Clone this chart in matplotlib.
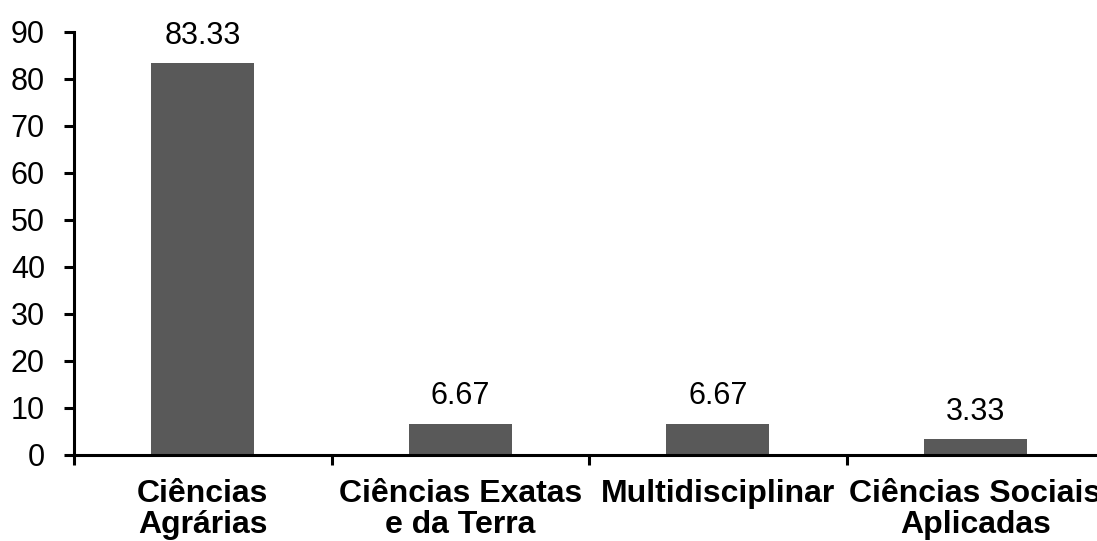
import matplotlib.pyplot as plt
import numpy as np

plt.rcParams['font.family'] = ['Liberation Sans', 'DejaVu Sans']

areas = ["Ciências\nAgrárias", "Ciências Exatas\ne da Terra",
         "Multidisciplinar", "Ciências Sociais\nAplicadas"]
percent = [83.33, 6.67, 6.67, 3.33]
yticks = [0, 10, 20, 30, 40, 50, 60, 70, 80, 90]

fig = plt.figure(figsize=(10.97, 5.41), dpi=100)
ax = fig.add_axes([0.0675, 0.159, 0.939, 0.782])

x = np.arange(len(areas))
bars = ax.bar(x, percent, width=0.4, color='#595959', zorder=2)

for b, v in zip(bars, percent):
    ax.annotate(f"{v:.2f}", (b.get_x() + b.get_width() / 2, v),
                xytext=(0, 9), textcoords='offset points',
                ha='center', va='bottom', fontsize=22)

ax.set_xlim(-0.5, len(areas) - 0.5)
ax.set_ylim(0, 90)
ax.set_yticks(yticks)

# category labels centred, tick marks on the boundaries
ax.set_xticks(x)
ax.set_xticklabels(areas, fontsize=23, fontweight='bold', linespacing=1.08)
ax.set_xticks(np.arange(-0.5, len(areas)), minor=True)
ax.tick_params(axis='x', which='major', length=0, pad=17)
ax.tick_params(axis='x', which='minor', length=7, width=2.2, direction='out')
ax.tick_params(axis='y', labelsize=22, length=7, width=2.2, direction='out', pad=14)

for s in ['top', 'right']:
    ax.spines[s].set_visible(False)
for s in ['left', 'bottom']:
    ax.spines[s].set_linewidth(2.2)

fig.savefig("out.png", dpi=100)
